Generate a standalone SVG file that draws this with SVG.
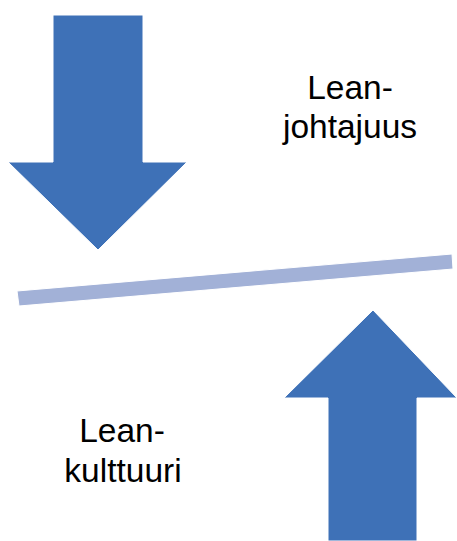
<svg xmlns="http://www.w3.org/2000/svg" width="457" height="541" viewBox="0 0 457 541">
<style>
.arrow{fill:#3e71b7;stroke:#ffffff;stroke-width:1}
.bar{fill:#a2b1d7;stroke:#ffffff;stroke-width:1}
.lbl{font-family:"Liberation Sans",Arial,sans-serif;font-size:33.5px;fill:#000000;text-anchor:middle}
</style>
<rect width="457" height="541" fill="#ffffff"/>
<g id="arrow-down">
<polygon class="arrow" points="53,15 143,15 143,162 187,162 98,250 8,162 53,162"/>
</g>
<g id="bar">
<polygon class="bar" points="17,291 452,254 453,269 19,306"/>
</g>
<g id="arrow-up">
<polygon class="arrow" points="373,310 457,398 417,398 417,541 328,541 328,398 284,398"/>
</g>
<g id="label-johtajuus">
<text class="lbl" x="350" y="99">Lean-</text>
<text class="lbl" x="350" y="138">johtajuus</text>
</g>
<g id="label-kulttuuri">
<text class="lbl" x="122" y="442">Lean-</text>
<text class="lbl" x="123" y="482">kulttuuri</text>
</g>
<g id="connectors"></g>
</svg>
